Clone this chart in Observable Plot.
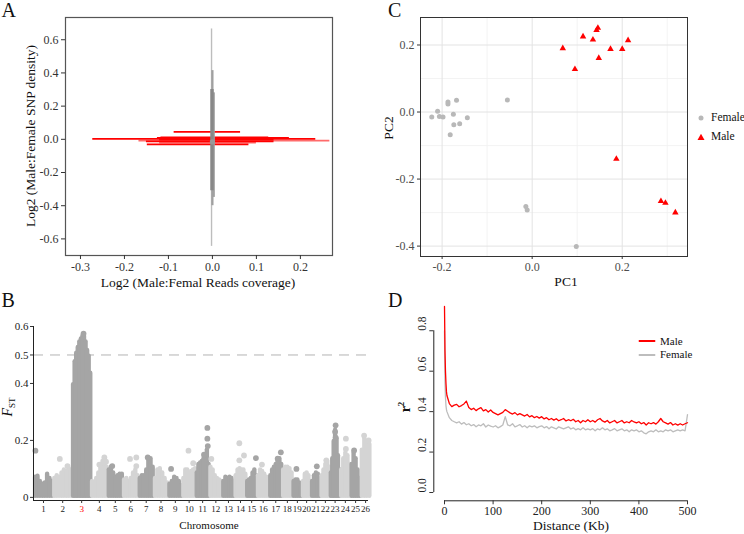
<!DOCTYPE html>
<html><head><meta charset="utf-8">
<script src="https://cdn.jsdelivr.net/npm/d3@7"></script>
<script src="https://cdn.jsdelivr.net/npm/@observablehq/plot@0.6"></script>
<style>
body{margin:0;background:#fff;}
#wrap{position:relative;width:744px;height:534px;overflow:hidden;font-family:"Liberation Serif","Times New Roman",serif;color:#111;}
#wrap > svg{position:absolute;overflow:visible;}
.t{position:absolute;white-space:nowrap;line-height:1;}
.t svg{display:block;}
</style></head><body><div id="wrap"></div>
<script>
// ---------- Panel A data ----------
const aXTicks = [-0.3, -0.2, -0.1, 0.0, 0.1, 0.2];
const aYTicks = [-0.6, -0.4, -0.2, 0.0, 0.2, 0.4, 0.6];
// [y, x1, x2] coverage ratio segments (red)
const redMain = [[0.045,-0.087,0.064],[0.003,-0.272,0.235],[0.012,-0.117,0.128],[0.008,-0.125,0.175],[-0.002,-0.12,0.14],[-0.012,-0.15,0.14],[-0.03,-0.148,0.083]];
const redLight = [[-0.008,-0.167,0.267],[-0.02,-0.12,0.1]];
// [x, y1, y2] SNP density segments (gray)
const grayThin = [[-0.002,-0.645,0.665]];
const grayMid = [[0.0,-0.40,0.414],[0.003,-0.35,0.28]];
const grayThick = [[-0.001,-0.31,0.30]];
const grayCenter = [[0.0,-0.015]];

// ---------- Panel B data ----------
const chrNames = ["1","2","3","4","5","6","7","8","9","10","11","12","13","14","15","16","17","18","19","20","21","22","23","24","25","26"];
const chrLen = [19.2,19.2,18.75,16.65,15.25,15.75,15.1,14.5,14.15,13.5,13.5,12.9,12.35,11.7,10.65,12.4,12.75,10.5,9.5,9,9.5,9.5,10,10.5,10,10];
const chrProfiles = [
  [0.075,0.078,0.06,0.05,0.055,0.085,0.07,0.06],
  [0.07,0.08,0.075,0.09,0.1,0.095,0.105,0.1],
  [0.4,0.48,0.51,0.53,0.55,0.56,0.57,0.57,0.55,0.52,0.5,0.44],
  [0.06,0.055,0.07,0.09,0.11,0.13,0.14,0.11],
  [0.1,0.11,0.09,0.075,0.08,0.085,0.085],
  [0.065,0.07,0.06,0.07,0.09,0.1,0.08],
  [0.07,0.08,0.08,0.1,0.135,0.14,0.11],
  [0.07,0.1,0.105,0.09,0.07,0.055],
  [0.05,0.06,0.075,0.07,0.06,0.045],
  [0.07,0.1,0.1,0.09,0.095,0.1,0.105],
  [0.09,0.12,0.125,0.13,0.14,0.15,0.17,0.12],
  [0.11,0.1,0.08,0.07,0.065,0.06],
  [0.06,0.075,0.07,0.075,0.07,0.06],
  [0.08,0.1,0.105,0.1,0.1,0.085],
  [0.06,0.065,0.07,0.09,0.1,0.08],
  [0.08,0.1,0.095,0.085,0.075,0.07],
  [0.08,0.1,0.11,0.12,0.13,0.14,0.12],
  [0.1,0.11,0.11,0.105,0.09],
  [0.06,0.065,0.065,0.055,0.045],
  [0.06,0.085,0.09,0.08,0.06],
  [0.06,0.08,0.09,0.085,0.065],
  [0.08,0.1,0.12,0.13,0.11],
  [0.09,0.14,0.2,0.24,0.21,0.15,0.1],
  [0.1,0.14,0.16,0.15,0.12],
  [0.12,0.16,0.14,0.1,0.07],
  [0.17,0.21,0.2,0.19]
];
// [chromosome, fraction along chromosome, Fst]
const fstOutliers = [[1,0.08,0.164],[2,0.35,0.135],[2,0.75,0.11],[4,0.5,0.115],[4,0.8,0.14],[4,0.9,0.125],[5,0.3,0.11],[6,0.45,0.135],[6,0.85,0.14],[6,0.85,0.11],[7,0.6,0.14],[9,0.2,0.1],[10,0.45,0.164],[10,0.8,0.12],[11,0.85,0.244],[11,0.85,0.206],[11,0.88,0.18],[11,0.6,0.15],[12,0.15,0.135],[14,0.4,0.19],[14,0.4,0.13],[14,0.8,0.147],[15,0.9,0.138],[16,0.4,0.115],[17,0.9,0.158],[17,0.65,0.136],[19,0.4,0.1],[21,0.6,0.109],[22,0.6,0.13],[23,0.55,0.253],[23,0.5,0.23],[23,0.55,0.21],[24,0.55,0.206],[24,0.55,0.17],[25,0.35,0.165],[26,0.35,0.217],[26,0.8,0.2],[3,0.6,0.575]];
const bYTicks = [0, 0.2, 0.4, 0.5, 0.6];
const fstThreshold = 0.5;

// ---------- Panel C data ----------
const femalePC = [[-0.223,-0.015],[-0.210,0.002],[-0.206,-0.013],[-0.198,-0.015],[-0.187,0.024],[-0.187,0.030],[-0.175,-0.007],[-0.174,-0.038],[-0.182,-0.068],[-0.168,0.035],[-0.161,-0.035],[-0.144,-0.017],[-0.055,0.036],[-0.014,-0.282],[-0.011,-0.292],[0.098,-0.401]];
const malePC = [[0.068,0.190],[0.095,0.128],[0.113,0.225],[0.135,0.216],[0.146,0.251],[0.143,0.244],[0.148,0.161],[0.174,0.188],[0.200,0.188],[0.213,0.214],[0.187,-0.140],[0.286,-0.266],[0.296,-0.271],[0.318,-0.300]];
const cXTicks = [-0.2, 0.0, 0.2];
const cYTicks = [-0.4, -0.2, 0.0, 0.2];
const cXMinor = [-0.1, 0.1, 0.3];
const cYMinor = [-0.3, -0.1, 0.1];

// ---------- Panel D data ----------
const distKb = [0,1,2,3,4].concat(d3.range(5, 501, 5));
const maleR2 = [0.92,0.70,0.60,0.54,0.50,
  0.48,0.44,0.425,0.432,0.436,0.424,0.43,0.438,0.452,0.42,
  0.41,0.417,0.405,0.414,0.42,0.404,0.41,0.398,0.408,0.396,
  0.39,0.384,0.39,0.396,0.41,0.402,0.394,0.388,0.395,0.384,
  0.39,0.384,0.378,0.386,0.374,0.38,0.37,0.376,0.368,0.375,
  0.364,0.37,0.36,0.366,0.358,0.365,0.355,0.36,0.366,0.354,
  0.36,0.355,0.362,0.35,0.356,0.345,0.356,0.35,0.36,0.35,
  0.356,0.348,0.36,0.366,0.354,0.348,0.356,0.344,0.35,0.356,
  0.344,0.35,0.356,0.344,0.35,0.345,0.356,0.349,0.344,0.35,
  0.34,0.346,0.334,0.345,0.34,0.346,0.338,0.35,0.366,0.35,
  0.344,0.338,0.346,0.334,0.34,0.333,0.34,0.334,0.34,0.345];
const femaleR2 = [0.80,0.55,0.47,0.43,0.41,
  0.40,0.37,0.356,0.35,0.344,0.35,0.338,0.346,0.335,0.34,
  0.33,0.336,0.325,0.334,0.33,0.34,0.324,0.334,0.328,0.324,
  0.33,0.32,0.326,0.334,0.375,0.334,0.33,0.34,0.325,0.33,
  0.336,0.324,0.33,0.32,0.33,0.325,0.33,0.32,0.326,0.33,
  0.32,0.326,0.315,0.325,0.32,0.314,0.325,0.32,0.315,0.32,
  0.325,0.314,0.32,0.31,0.316,0.31,0.32,0.31,0.315,0.31,
  0.316,0.305,0.315,0.31,0.32,0.31,0.315,0.305,0.31,0.316,
  0.305,0.31,0.315,0.305,0.31,0.3,0.31,0.305,0.31,0.3,
  0.305,0.295,0.29,0.3,0.305,0.3,0.31,0.3,0.305,0.3,
  0.31,0.305,0.31,0.3,0.305,0.31,0.305,0.31,0.305,0.385];
const dXTicks = [0,100,200,300,400,500];
const dYTicks = [0.0,0.2,0.4,0.6,0.8];

// ---------- helpers ----------
const SERIF = '"Liberation Serif","Times New Roman",serif';
const wrap = document.getElementById("wrap");
const fmt1 = d => d.toFixed(1);
function place(svg, left, top){ svg.style.left = left+"px"; svg.style.top = top+"px"; wrap.appendChild(svg); }
function label(html, x, y, opts={}){
  const d = document.createElement("div"); d.className="t"; d.innerHTML = html;
  d.style.left = x+"px"; d.style.top = y+"px";
  d.style.fontSize = (opts.size||13.5)+"px";
  if (opts.weight) d.style.fontWeight = opts.weight;
  if (opts.color) d.style.color = opts.color;
  const rot = opts.rotate ? ` rotate(${opts.rotate}deg)` : "";
  d.style.transform = (opts.corner ? "" : "translate(-50%,-50%)") + rot;
  wrap.appendChild(d); return d;
}
const baseStyle = (fs) => ({fontFamily: SERIF, fontSize: fs+"px", background: "transparent", color: "#333", overflow: "visible"});

// ---------- Panel A ----------
const segY = (data, stroke, w) => Plot.ruleY(data, {y: d=>d[0], x1: d=>d[1], x2: d=>d[2], stroke, strokeWidth: w});
const segX = (data, stroke, w) => Plot.ruleX(data, {x: d=>d[0], y1: d=>d[1], y2: d=>d[2], stroke, strokeWidth: w});
const plotA = Plot.plot({
  width: 372, height: 295, marginLeft: 65, marginRight: 40, marginTop: 17, marginBottom: 40,
  style: baseStyle(12),
  x: {domain: [-0.334, 0.273]}, y: {domain: [-0.70, 0.734]},
  marks: [
    segY(redLight, "#ff6b6b", 1.6),
    segY(redMain, "#ff0000", 1.8),
    segX(grayThin, "#bdbdbd", 1.4),
    segX(grayMid, "#a0a0a0", 2.2),
    segX(grayThick, "#888888", 3.4),
    Plot.dot(grayCenter, {x: d=>d[0], y: d=>d[1], r: 2.6, fill: "#999999"}),
    Plot.frame({stroke: "#555", strokeWidth: 1.2}),
    Plot.axisX({ticks: aXTicks, tickFormat: fmt1, tickSize: 4, tickPadding: 3, label: null}),
    Plot.axisY({ticks: aYTicks, tickFormat: fmt1, tickSize: 4, tickPadding: 3, label: null})
  ]
});
place(plotA, 0, 0);
label("Log2 (Male:Femal Reads coverage)", 198, 283);
label("Log2 (Male:Female SNP density)", 31, 136, {rotate: -90});
label("A", 1.5, 0, {size: 20, corner: true});

// ---------- Panel B ----------
const chrStart = chrLen.map((l,i) => d3.sum(chrLen.slice(0,i)));
const chrMid = chrStart.map((s,i) => s + chrLen[i]/2);
const genomeEnd = d3.sum(chrLen);
const DARK = "#a5a5a5", LIGHT = "#d4d4d4";
const blobRows = chrProfiles.flatMap((hs,i) => hs.map((h,j) => ({x: chrStart[i] + (j+0.5)/hs.length*chrLen[i], h, c: i%2===0 ? DARK : LIGHT})));
const outRows = fstOutliers.map(([c,f,v]) => ({x: chrStart[c-1] + f*chrLen[c-1], h: v, c: (c-1)%2===0 ? DARK : LIGHT}));
const bYMin = -0.011, bXMin = -0.4, bXMax = genomeEnd - 2.1;
const plotB = Plot.plot({
  width: 372, height: 267, marginLeft: 33, marginRight: 4, marginTop: 59, marginBottom: 34,
  style: baseStyle(11),
  color: {type: "identity"},
  x: {domain: [bXMin, bXMax]}, y: {domain: [bYMin, d3.max(bYTicks)]},
  marks: [
    Plot.ruleY([fstThreshold], {stroke: "#b3b3b3", strokeDasharray: "10,7", strokeWidth: 1}),
    Plot.ruleX(blobRows, {x: "x", y1: 0.004, y2: d => d.h - 0.004, stroke: "c", strokeWidth: 4.4, strokeLinecap: "round"}),
    Plot.dot(outRows, {x: "x", y: "h", r: 2.9, fill: "c"}),
    Plot.ruleX([bXMin], {y1: bYMin, y2: d3.max(bYTicks), stroke: "#222"}),
    Plot.ruleY([bYMin], {x1: bXMin, x2: bXMax, stroke: "#222"}),
    Plot.axisY({ticks: bYTicks, tickFormat: d => d === 0 ? "0" : d.toFixed(1), tickSize: 3, tickPadding: 2, label: null, fill: "#222"}),
    Plot.axisX({ticks: chrMid, tickFormat: () => "", tickSize: 3, label: null}),
    Plot.text(chrNames, {x: (d,i) => chrMid[i], frameAnchor: "bottom", dy: 11, text: d => d, fontSize: 9, fill: d => d === "3" ? "#ff0000" : "#222", fontWeight: d => d === "3" ? "bold" : "normal"})
  ]
});
place(plotB, 0, 267);
label("Chromosome", 209, 525, {size: 11});
label("<i>F</i><sub style='font-size:9px'>ST</sub>", 9, 407, {size: 14, rotate: -90});
label("B", 1.5, 290, {size: 20, corner: true});

// ---------- Panel C ----------
const plotC = Plot.plot({
  width: 372, height: 290, marginLeft: 48, marginRight: 57, marginTop: 17, marginBottom: 34,
  style: baseStyle(12),
  x: {domain: [-0.248, 0.345]}, y: {domain: [-0.431, 0.282]},
  marks: [
    Plot.gridX(cXMinor, {stroke: "#f0f0f0", strokeOpacity: 1, strokeWidth: 0.8}),
    Plot.gridY(cYMinor, {stroke: "#f0f0f0", strokeOpacity: 1, strokeWidth: 0.8}),
    Plot.gridX(cXTicks, {stroke: "#e3e3e3", strokeOpacity: 1, strokeWidth: 1}),
    Plot.gridY(cYTicks, {stroke: "#e3e3e3", strokeOpacity: 1, strokeWidth: 1}),
    Plot.dot(femalePC, {x: d=>d[0], y: d=>d[1], r: 2.5, fill: "#b8b8b8"}),
    Plot.dot(malePC, {x: d=>d[0], y: d=>d[1], r: 2.4, symbol: "triangle", fill: "#ff0000"}),
    Plot.frame({stroke: "#333", strokeWidth: 1}),
    Plot.axisX({ticks: cXTicks, tickFormat: fmt1, tickSize: 3, tickPadding: 3, label: null, fill: "#4d4d4d"}),
    Plot.axisY({ticks: cYTicks, tickFormat: fmt1, tickSize: 3, tickPadding: 3, label: null, fill: "#4d4d4d"})
  ]
});
place(plotC, 372, 0);
label("PC1", 566, 282);
label("PC2", 389, 128, {rotate: -90});
label("C", 388, 0, {size: 20, corner: true});
// legend C
label("<svg width='8' height='8'><circle cx='4' cy='4' r='2.5' fill='#b8b8b8'/></svg>", 701, 118, {size: 8});
label("<svg width='9' height='9'><path d='M4.5,1.2 L8,7.5 L1,7.5Z' fill='#ff0000'/></svg>", 701, 137, {size: 8});
label("Female", 711, 112, {size: 11.5, corner: true});
label("Male", 711, 131, {size: 11.5, corner: true});

// ---------- Panel D ----------
const plotD = Plot.plot({
  width: 372, height: 267, marginLeft: 72, marginRight: 57, marginTop: 39, marginBottom: 42,
  style: baseStyle(12),
  x: {domain: [0, 500]}, y: {domain: [0, 0.92]},
  marks: [
    Plot.line(distKb, {x: d => d, y: (d,i) => femaleR2[i], stroke: "#bdbdbd", strokeWidth: 1.3}),
    Plot.line(distKb, {x: d => d, y: (d,i) => maleR2[i], stroke: "#ff0000", strokeWidth: 1.3}),
    Plot.ruleX([0], {y1: d3.min(dYTicks), y2: d3.max(dYTicks), dx: -10.7, stroke: "#222"}),
    Plot.axisY({ticks: dYTicks, tickFormat: () => "", tickSize: 4, dx: -10.7, label: null}),
    Plot.text(dYTicks, {y: d => d, frameAnchor: "left", text: fmt1, rotate: -90, dx: -22, fontSize: 11.5, fill: "#222"}),
    Plot.ruleY([0], {x1: d3.min(dXTicks), x2: d3.max(dXTicks), dy: 8.3, stroke: "#222"}),
    Plot.axisX({ticks: dXTicks, tickFormat: d => String(d), tickSize: 4, tickPadding: 2, dy: 8.3, label: null, fill: "#222"})
  ]
});
place(plotD, 372, 267);
label("Distance (Kb)", 571, 526);
label("<b>r</b><sup style='font-size:9px'>2</sup>", 405, 407, {size: 14, rotate: -90, weight: "bold"});
label("D", 388, 290, {size: 20, corner: true});
// legend D
label("<svg width='17' height='3'><line x1='0' y1='1.5' x2='17' y2='1.5' stroke='#ff0000' stroke-width='2'/></svg>", 647, 341, {size: 3});
label("<svg width='17' height='3'><line x1='0' y1='1.5' x2='17' y2='1.5' stroke='#bdbdbd' stroke-width='2'/></svg>", 647, 354.7, {size: 3});
label("Male", 660, 335.5, {size: 11, corner: true});
label("Female", 660, 349, {size: 11, corner: true});
</script></body></html>
